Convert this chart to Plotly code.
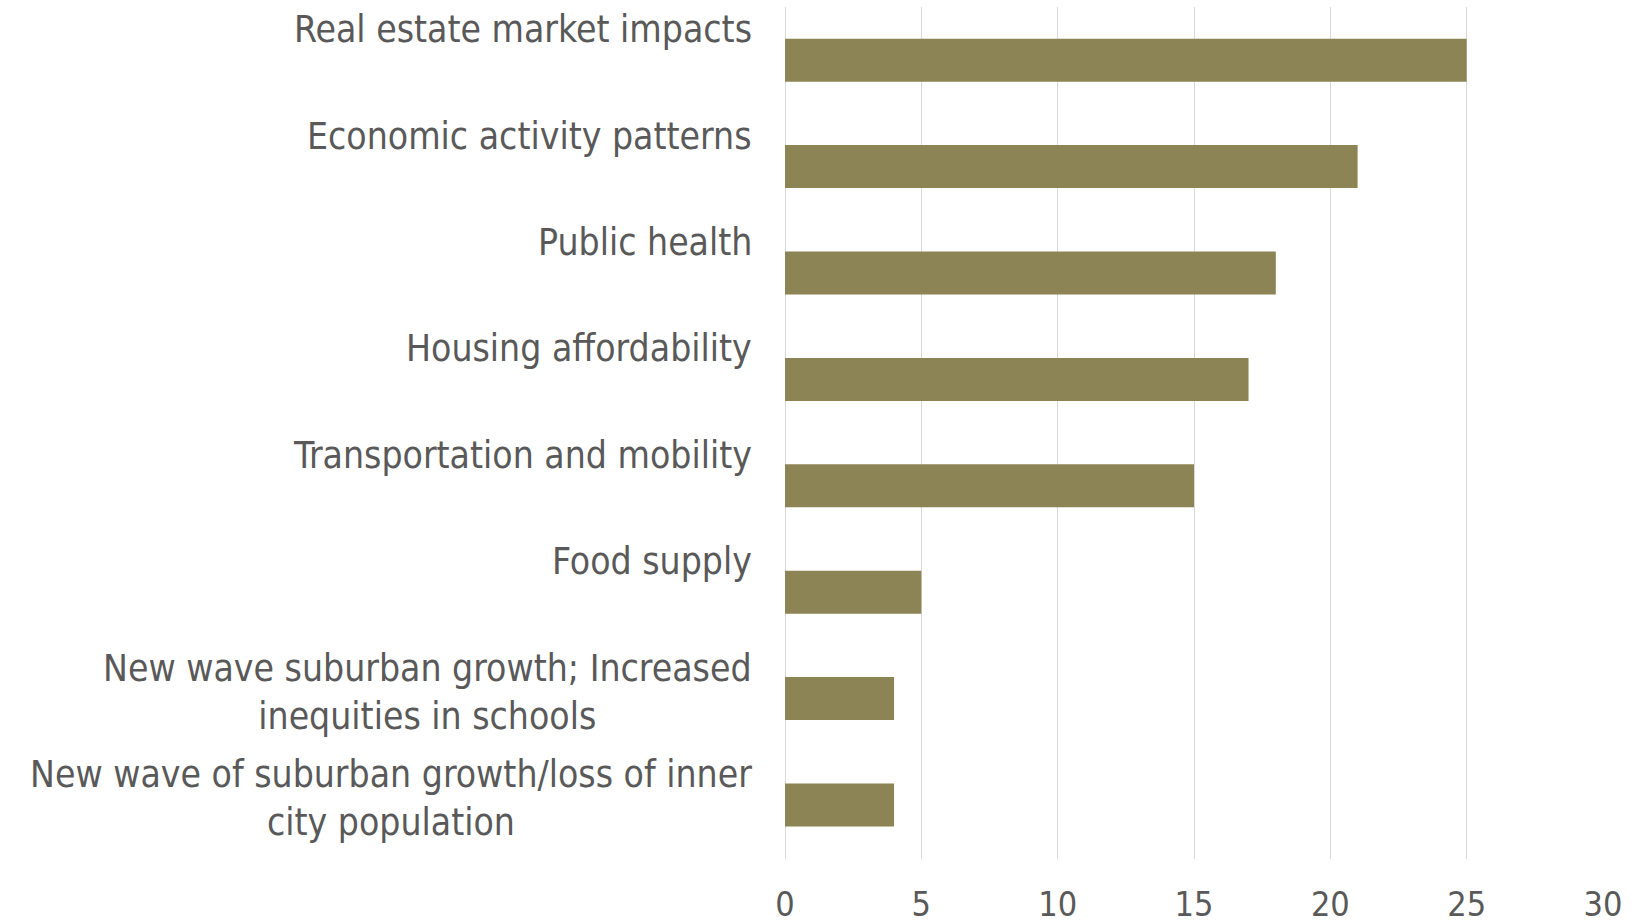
import plotly.graph_objects as go

# Survey topics (top to bottom) and the number of responses for each
categories = [
    "Real estate market impacts",
    "Economic activity patterns",
    "Public health",
    "Housing affordability",
    "Transportation and mobility",
    "Food supply",
    "New wave suburban growth; Increased<br>inequities in schools",
    "New wave of suburban growth/loss of inner<br>city population",
]
values = [25, 21, 18, 17, 15, 5, 4, 4]
x_ticks = [0, 5, 10, 15, 20, 25, 30]

BAR_COLOR = "#8C8455"
TEXT_COLOR = "#595959"
GRID_COLOR = "#D9D9D9"
FONT = "DejaVu Sans Condensed"

fig = go.Figure(
    go.Bar(
        x=values,
        y=categories,
        orientation="h",
        marker=dict(color=BAR_COLOR, line=dict(width=0)),
        hoverinfo="x+y",
    )
)

# Category labels sit above each bar, right of the block aligned to the axis,
# multi-line labels centred within their block
annotations = [
    dict(
        x=0, xref="paper", xshift=-31, xanchor="right",
        y=cat, yref="y", yanchor="top", yshift=54,
        text=cat, align="center", showarrow=False,
        font=dict(family=FONT, size=37, color=TEXT_COLOR),
    )
    for cat in categories
]

fig.update_layout(
    width=1636,
    height=923,
    margin=dict(l=785, r=33, t=7, b=64, autoexpand=False),
    paper_bgcolor="white",
    plot_bgcolor="white",
    bargap=0.596,
    showlegend=False,
    annotations=annotations,
    font=dict(family=FONT, color=TEXT_COLOR),
)
fig.update_xaxes(
    range=[0, 30],
    tickvals=x_ticks,
    ticktext=[str(v) for v in x_ticks],
    showgrid=True,
    gridcolor=GRID_COLOR,
    gridwidth=1,
    zeroline=True,
    zerolinecolor=GRID_COLOR,
    zerolinewidth=1,
    showline=False,
    ticks="",
    automargin=False,
    ticklabelstandoff=22,
    tickfont=dict(family=FONT, size=34, color=TEXT_COLOR),
)
fig.update_yaxes(
    categoryorder="array",
    categoryarray=categories,
    autorange="reversed",
    automargin=False,
    showticklabels=False,
    showgrid=False,
    zeroline=False,
    showline=False,
    ticks="",
)

fig.write_html("out.html")
